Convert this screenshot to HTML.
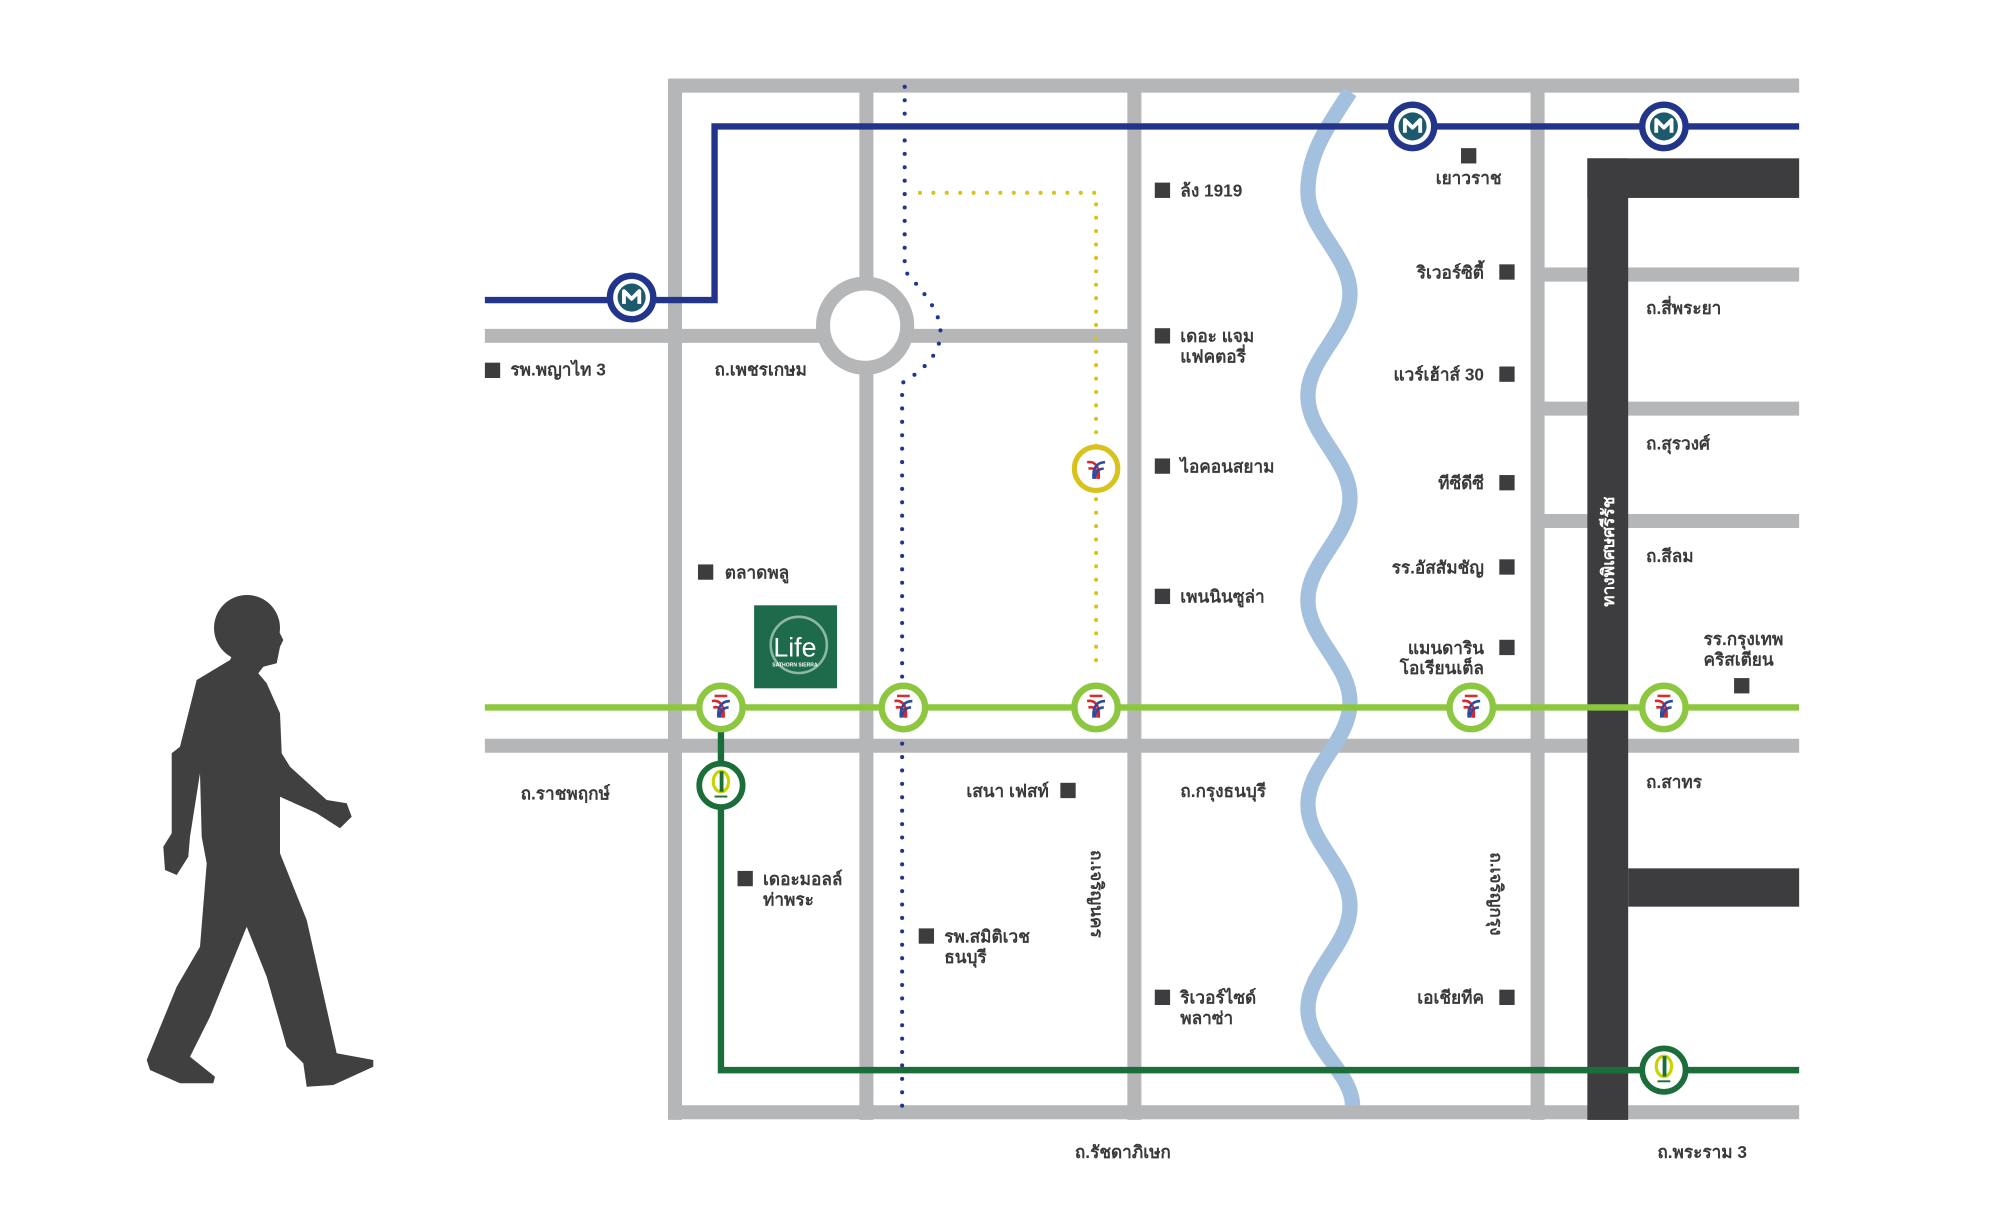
<!DOCTYPE html>
<html><head><meta charset="utf-8"><style>
html,body{margin:0;padding:0;background:#fff;}
svg{display:block;}
text{font-family:"Liberation Sans","DejaVu Sans",sans-serif;font-weight:bold;fill:#3a3a3c;font-size:13.5px;}
</style></head><body>
<svg width="2000" height="1226" viewBox="0 0 2000 1226" xmlns="http://www.w3.org/2000/svg">
<defs>
<g id="bts">
<circle r="17" fill="#fff" stroke="#8dc63f" stroke-width="5"/>
<rect x="-5" y="-10" width="10" height="2" fill="#c33"/>
<path d="M-7,-5 C-2,-6 3,-3 2,8 M-6,0 C-1,-1 2,2 1,8" stroke="#d9262c" stroke-width="2" fill="none"/>
<path d="M7,-5 C2,-5 -3,-2 -2,8 M6,0 C2,0 -1,3 -1,8" stroke="#2b4aa0" stroke-width="2" fill="none"/>
</g>
<g id="mrt">
<circle r="17" fill="#fff" stroke="#22358a" stroke-width="5"/>
<circle r="11" fill="#1d5a6e"/>
<path d="M-6,5 V-5 L0,1 L6,-5 V5" stroke="#fff" stroke-width="3" fill="none" stroke-linejoin="round"/>
</g>
<g id="srt">
<circle r="17" fill="#fff" stroke="#1b6e3a" stroke-width="4.5"/>
<ellipse cx="0" cy="-3" rx="6" ry="8" fill="none" stroke="#c8d400" stroke-width="2.5"/>
<rect x="-1" y="-11" width="3" height="16" fill="#1b6e3a"/>
<rect x="-5" y="8" width="10" height="1.5" fill="#1b6e3a"/>
</g>
</defs>
<g transform="scale(1.276,1.277)">
<!-- roads -->
<g stroke="#b5b6b8" stroke-width="11" fill="none">
<line x1="524" y1="67" x2="1410" y2="67"/>
<line x1="524" y1="871" x2="1410" y2="871"/>
<line x1="529" y1="62" x2="529" y2="877"/>
<line x1="679" y1="62" x2="679" y2="222"/>
<line x1="679" y1="288" x2="679" y2="877"/>
<line x1="889" y1="62" x2="889" y2="877"/>
<line x1="1205" y1="62" x2="1205" y2="877"/>
<line x1="380" y1="263" x2="645" y2="263"/>
<line x1="711" y1="263" x2="889" y2="263"/>
<line x1="380" y1="584" x2="1410" y2="584"/>
<line x1="1205" y1="215" x2="1410" y2="215"/>
<line x1="1205" y1="320" x2="1410" y2="320"/>
<line x1="1205" y1="408" x2="1410" y2="408"/>
<circle cx="678" cy="255" r="33"/>
</g>
<!-- river -->
<path d="M1058,72 C1040,100 1025,120 1025,150 S1058,200 1058,230 S1025,280 1025,310 S1058,360 1058,390 S1025,440 1025,470 S1058,520 1058,550 S1025,600 1025,630 S1058,680 1058,710 S1025,760 1025,790 S1060,840 1060,866" stroke="#a3c1de" stroke-width="12" fill="none"/>
<!-- expressway -->
<g fill="#3d3d3f">
<rect x="1244" y="124" width="32" height="753"/>
<rect x="1244" y="124" width="166" height="31"/>
<rect x="1276" y="680" width="134" height="30"/>
</g>
<text transform="translate(1265,432) rotate(-90)" text-anchor="middle" style="fill:#fff">ทางพิเศษศรีรัช</text>
<!-- dotted lines -->
<path d="M709,68 L709,212 C725,230 738,245 737,262 C736,280 720,292 707,300 L707,872" stroke="#22358a" stroke-width="3.2" stroke-linecap="round" stroke-dasharray="0 10.5" fill="none"/>
<path d="M721,151 L859,151 L859,520" stroke="#d9c21c" stroke-width="3.2" stroke-linecap="round" stroke-dasharray="0 10.5" fill="none"/>
<!-- lines -->
<path d="M380,235 H560 V99 H1410" stroke="#22358a" stroke-width="5" fill="none"/>
<path d="M565,554 V838 H1410" stroke="#1b6e3a" stroke-width="5" fill="none"/>
<line x1="380" y1="554" x2="1410" y2="554" stroke="#8dc63f" stroke-width="5"/>
<!-- stations -->
<use href="#mrt" x="495" y="233"/>
<use href="#mrt" x="1107" y="99"/>
<use href="#mrt" x="1304" y="99"/>
<use href="#bts" x="565" y="554"/>
<use href="#bts" x="708" y="554"/>
<use href="#bts" x="859" y="554"/>
<use href="#bts" x="1153" y="554"/>
<use href="#bts" x="1304" y="554"/>
<g transform="translate(859,367)">
<circle r="17" fill="#fff" stroke="#d9c21c" stroke-width="4"/>
<path d="M-7,-5 C-2,-6 3,-3 2,8 M-6,0 C-1,-1 2,2 1,8" stroke="#d9262c" stroke-width="2" fill="none"/>
<path d="M7,-5 C2,-5 -3,-2 -2,8 M6,0 C2,0 -1,3 -1,8" stroke="#2b4aa0" stroke-width="2" fill="none"/>
</g>
<use href="#srt" x="565" y="615"/>
<use href="#srt" x="1304" y="838"/>
<!-- Life logo -->
<rect x="591" y="474" width="65" height="65" fill="#1d6b4a"/>
<circle cx="626" cy="505" r="22" fill="none" stroke="#8fb8a4" stroke-width="2"/>
<text x="623" y="514" text-anchor="middle" style="fill:#fff;font-size:21px;font-weight:normal">Life</text>
<text x="623" y="522" text-anchor="middle" style="fill:#fff;font-size:4px">SATHORN SIERRA</text>
<!-- markers -->
<g fill="#3d3d3f">
<rect x="380" y="284" width="12" height="12"/>
<rect x="547" y="442" width="12" height="12"/>
<rect x="905" y="143" width="12" height="12"/>
<rect x="905" y="257" width="12" height="12"/>
<rect x="905" y="359" width="12" height="12"/>
<rect x="905" y="461" width="12" height="12"/>
<rect x="1145" y="116" width="12" height="12"/>
<rect x="1175" y="207" width="12" height="12"/>
<rect x="1175" y="287" width="12" height="12"/>
<rect x="1175" y="372" width="12" height="12"/>
<rect x="1175" y="438" width="12" height="12"/>
<rect x="1175" y="501" width="12" height="12"/>
<rect x="1359" y="531" width="12" height="12"/>
<rect x="831" y="613" width="12" height="12"/>
<rect x="578" y="682" width="12" height="12"/>
<rect x="720" y="727" width="12" height="12"/>
<rect x="905" y="775" width="12" height="12"/>
<rect x="1175" y="775" width="12" height="12"/>
</g>
<!-- labels -->
<text x="400" y="294">รพ.พญาไท 3</text>
<text x="560" y="294">ถ.เพชรเกษม</text>
<text x="568" y="453">ตลาดพลู</text>
<text x="925" y="154">ล้ง 1919</text>
<text x="925" y="268">เดอะ แจม</text>
<text x="925" y="284">แฟคตอรี่</text>
<text x="925" y="370">ไอคอนสยาม</text>
<text x="925" y="472">เพนนินซูล่า</text>
<text x="1151" y="144" text-anchor="middle">เยาวราช</text>
<g text-anchor="end">
<text x="1163" y="218">ริเวอร์ซิตี้</text>
<text x="1163" y="298">แวร์เฮ้าส์ 30</text>
<text x="1163" y="383">ทีซีดีซี</text>
<text x="1163" y="449">รร.อัสสัมชัญ</text>
<text x="1163" y="512">แมนดาริน</text>
<text x="1163" y="528">โอเรียนเต็ล</text>
<text x="822" y="624">เสนา เฟสท์</text>
<text x="1163" y="786">เอเชียทีค</text>
</g>
<text x="1290" y="246">ถ.สี่พระยา</text>
<text x="1290" y="352">ถ.สุรวงศ์</text>
<text x="1290" y="440">ถ.สีลม</text>
<text x="1335" y="505">รร.กรุงเทพ</text>
<text x="1335" y="521">คริสเตียน</text>
<text x="1290" y="617">ถ.สาทร</text>
<text x="408" y="626">ถ.ราชพฤกษ์</text>
<text x="925" y="624">ถ.กรุงธนบุรี</text>
<text x="598" y="693">เดอะมอลล์</text>
<text x="598" y="709">ท่าพระ</text>
<text x="740" y="738">รพ.สมิติเวช</text>
<text x="740" y="754">ธนบุรี</text>
<text x="925" y="786">ริเวอร์ไซด์</text>
<text x="925" y="802">พลาซ่า</text>
<text transform="translate(855,700) rotate(90)" text-anchor="middle">ถ.เจริญนคร</text>
<text transform="translate(1168,700) rotate(90)" text-anchor="middle">ถ.เจริญกรุง</text>
<text x="880" y="907" text-anchor="middle">ถ.รัชดาภิเษก</text>
<text x="1334" y="907" text-anchor="middle">ถ.พระราม 3</text>
</g>
<!-- person (original coords) -->
<g fill="#404040">
<circle cx="247" cy="628" r="33"/>
<polygon points="230,660 196.7,680 180,746.7 171.7,753.3 171.7,833.3 163.3,846.7 165,870 176.7,875 188.3,856.7 190,836.7 200,773.3 201.7,836.7 206.7,863.3 200,946.7 176.7,986.7 146.7,1060 150,1070 180,1083.3 213.3,1083.3 215,1076.7 190,1056.7 210,1016.7 246.7,926.7 266.7,976.7 286.7,1046.7 303.3,1063.3 306.7,1086.7 333.3,1085 373.3,1066.7 373.3,1060 336.7,1053.3 306.7,920 280,853.3 280,796.7 316.7,813.3 340,828.3 351.7,816.7 346.7,803.3 326.7,800 290,766.7 281.7,753.3 280,713.3 266.7,683.3 258.3,673.3 263.3,666.7 276.7,663.3 280,646.7 283.3,640 276.7,626.7 260,600"/>
</g>
</svg>
</body></html>
